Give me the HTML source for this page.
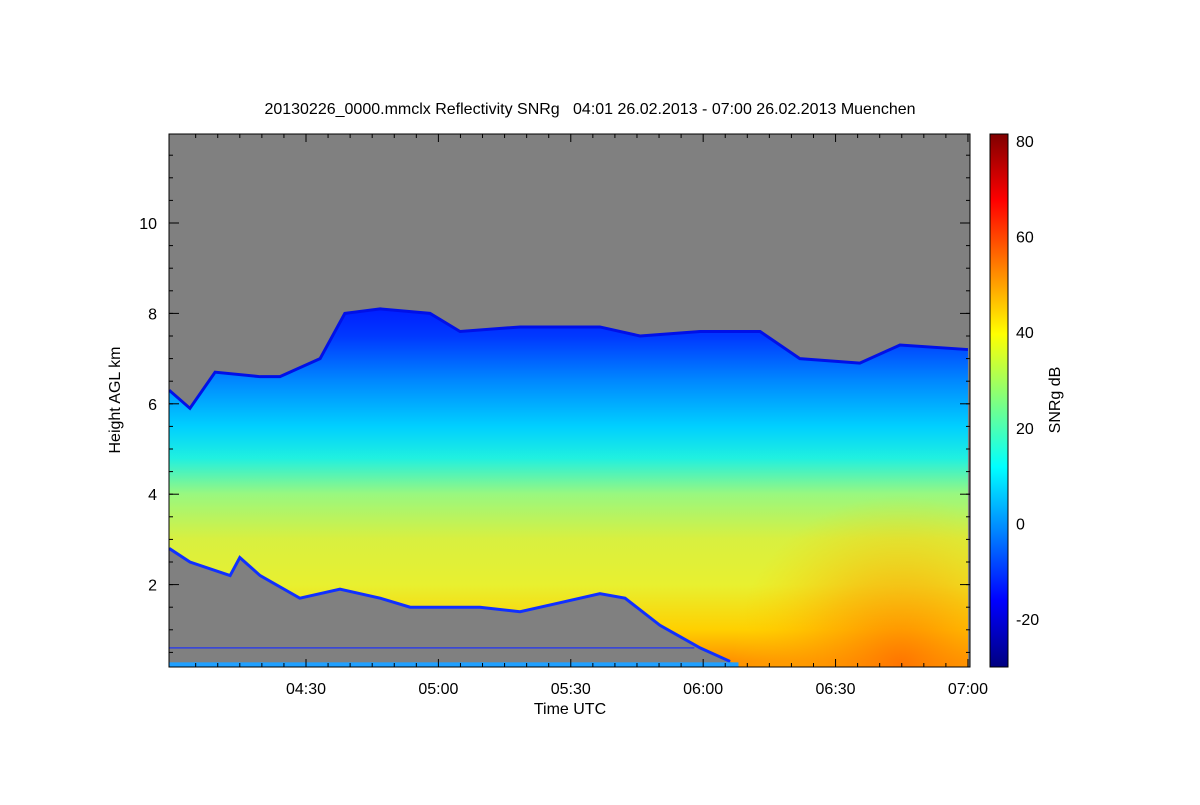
<!DOCTYPE html>
<html><head><meta charset="utf-8"><style>
body{margin:0;background:#fff;}
svg text{font-family:"Liberation Sans",sans-serif;font-size:16px;fill:#000;white-space:pre;}
</style></head><body>
<svg id="c" width="1200" height="800">
<defs>
<linearGradient id="cloudG" gradientUnits="userSpaceOnUse" x1="0" y1="134" x2="0" y2="667">
<stop offset="0.30" stop-color="#0010ff"/>
<stop offset="0.379" stop-color="#0038ff"/>
<stop offset="0.463" stop-color="#0088ff"/>
<stop offset="0.549" stop-color="#00d0ff"/>
<stop offset="0.608" stop-color="#20f0e0"/>
<stop offset="0.675" stop-color="#98f880"/>
<stop offset="0.760" stop-color="#d8f040"/>
<stop offset="0.846" stop-color="#e8f030"/>
<stop offset="0.930" stop-color="#ffd000"/>
<stop offset="0.989" stop-color="#ff9000"/>
</linearGradient>
<radialGradient id="orangeG" cx="900" cy="665" r="170" gradientUnits="userSpaceOnUse">
<stop offset="0" stop-color="#ff7000" stop-opacity="0.85"/>
<stop offset="0.5" stop-color="#ffa000" stop-opacity="0.5"/>
<stop offset="1" stop-color="#ffd000" stop-opacity="0"/>
</radialGradient>
<linearGradient id="jet" x1="0" y1="1" x2="0" y2="0">
<stop offset="0" stop-color="#000080"/>
<stop offset="0.125" stop-color="#0000ff"/>
<stop offset="0.375" stop-color="#00ffff"/>
<stop offset="0.625" stop-color="#ffff00"/>
<stop offset="0.875" stop-color="#ff0000"/>
<stop offset="1" stop-color="#800000"/>
</linearGradient>
<clipPath id="plotClip"><rect x="169" y="134" width="801" height="533"/></clipPath>
</defs>
<rect x="169" y="134" width="801" height="533" fill="#808080"/>
<g id="marks" clip-path="url(#plotClip)"></g>
<rect x="169" y="134" width="801" height="533" fill="none" stroke="#000" stroke-width="1"/>
<g id="axes"></g>
<text x="590" y="114" text-anchor="middle">20130226_0000.mmclx Reflectivity SNRg   04:01 26.02.2013 - 07:00 26.02.2013 Muenchen</text>
<text x="570" y="714" text-anchor="middle">Time UTC</text>
<text transform="translate(120,400) rotate(-90)" text-anchor="middle">Height AGL km</text>
<rect x="990" y="134" width="18" height="533" fill="url(#jet)" stroke="#000"/>
<text transform="translate(1060,400) rotate(-90)" text-anchor="middle">SNRg dB</text>
</svg>
<script>
const topTimes=[239,243.7,249.4,259.6,264.1,273.2,278.8,286.8,298.1,304.9,318.5,336.6,345.7,359.3,372.9,381.9,395.5,404.6,420];
const topHeights=[6.3,5.9,6.7,6.6,6.6,7.0,8.0,8.1,8.0,7.6,7.7,7.7,7.5,7.6,7.6,7.0,6.9,7.3,7.2];
const baseTimes=[239,243.7,252.8,255,259.6,268.6,277.7,286.8,293.6,309.4,318.5,327.6,336.6,342.3,350.2,359.3,366.1,368.3,420];
const baseHeights=[2.8,2.5,2.2,2.6,2.2,1.7,1.9,1.7,1.5,1.5,1.4,1.6,1.8,1.7,1.1,0.6,0.3,0.18,0.18];
const xTickLabels=["04:30","05:00","05:30","06:00","06:30","07:00"];
const xTickTimes=[270,300,330,360,390,420];
const yTicks=[2,4,6,8,10];
const cbTicks=[80,60,40,20,0,-20];
const X=t=>306+(t-270)*4.413;
const Y=h=>675-h*45.2;
const CB=v=>619-(v+20)*4.78;
const NS="http://www.w3.org/2000/svg";
function mk(tag,attrs,parent){const e=document.createElementNS(NS,tag);for(const k in attrs)e.setAttribute(k,attrs[k]);parent.appendChild(e);return e;}
const marks=document.getElementById('marks'),axes=document.getElementById('axes');
let pts=topTimes.map((t,i)=>X(t)+','+Y(topHeights[i]));
let bpts=baseTimes.map((t,i)=>X(t)+','+Y(baseHeights[i])).reverse();
const cloud=mk('polygon',{points:pts.concat(bpts).join(' '),fill:'url(#cloudG)'},marks);


const orange=mk('polygon',{points:pts.concat(bpts).join(' '),fill:'url(#orangeG)'},marks);


const topEdge=mk('polyline',{points:pts.join(' '),fill:'none',stroke:'#0010e8','stroke-width':3},marks);


const baseEdge=mk('polyline',{points:bpts.slice(2).join(' '),fill:'none',stroke:'#1030ff','stroke-width':3},marks);


const ll=mk('line',{x1:169,x2:X(358),y1:Y(0.6),y2:Y(0.6),stroke:'#3040e0','stroke-width':1.5},marks);


const gc=mk('rect',{x:169,y:Y(0.28),width:X(368)-169,height:Y(0.18)-Y(0.28),fill:'#20a0ff'},marks);


for(let t=245;t<=420;t+=5){
 const big=xTickTimes.includes(t);
 mk('line',{x1:X(t),x2:X(t),y1:667,y2:big?659:663,stroke:'#000'},axes);
 mk('line',{x1:X(t),x2:X(t),y1:134,y2:big?142:138,stroke:'#000'},axes);
}
for(let h=0.5;h<12;h+=0.5){
 mk('line',{x1:169,x2:173,y1:Y(h),y2:Y(h),stroke:'#000'},axes);
 mk('line',{x1:970,x2:966,y1:Y(h),y2:Y(h),stroke:'#000'},axes);
}
xTickTimes.forEach((t,i)=>{
 const tx=mk('text',{x:X(t),y:694,'text-anchor':'middle'},axes);tx.textContent=xTickLabels[i];
 
 
});
yTicks.forEach(h=>{
 mk('line',{x1:169,x2:179,y1:Y(h),y2:Y(h),stroke:'#000'},axes);
 mk('line',{x1:970,x2:960,y1:Y(h),y2:Y(h),stroke:'#000'},axes);
 const tx=mk('text',{x:157,y:Y(h)+6,'text-anchor':'end'},axes);tx.textContent=h;
 
 
});
cbTicks.forEach(v=>{
 mk('line',{x1:1008,x2:1001,y1:CB(v),y2:CB(v),stroke:'#000'},axes);
 const tx=mk('text',{x:1016,y:CB(v)+6},axes);tx.textContent=v;
 
 
});
</script>
</body></html>
